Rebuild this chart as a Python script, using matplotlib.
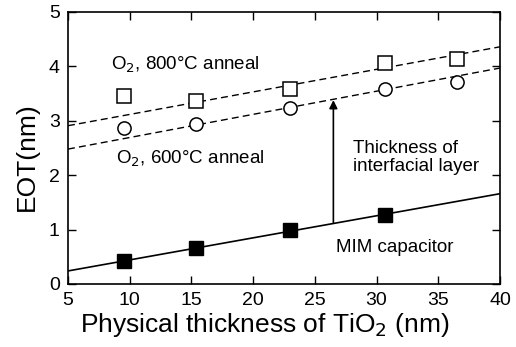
import numpy as np
import matplotlib
matplotlib.use("Agg")
import matplotlib.pyplot as plt

plt.rcParams['font.family'] = ['Liberation Sans', 'DejaVu Sans']

# TiO2 physical thickness (nm)
thick = [9.5, 15.4, 23.0, 30.7, 36.5]
thick_mim = [9.5, 15.4, 23.0, 30.7]

# EOT (nm)
eot_800 = [3.46, 3.37, 3.59, 4.07, 4.14]
eot_600 = [2.87, 2.94, 3.24, 3.59, 3.72]
eot_mim = [0.42, 0.66, 0.99, 1.27]

# fit lines, read at x = 5 and x = 40
line_x = [5, 40]
line_800 = [2.91, 4.36]
line_600 = [2.48, 3.97]
line_mim = [0.24, 1.66]

fig = plt.figure(figsize=(5.16, 3.47), dpi=100)
ax = fig.add_axes([68/516, 1 - 284/347, 432/516, 272/347])

ax.plot(line_x, line_800, 'k--', lw=1, dashes=(5, 3))
ax.plot(line_x, line_600, 'k--', lw=1, dashes=(5, 3))
ax.plot(line_x, line_mim, 'k-', lw=1.2)

ax.plot(thick, eot_800, 's', ms=9.5, mfc='white', mec='black', mew=1.1)
ax.plot(thick, eot_600, 'o', ms=9.5, mfc='white', mec='black', mew=1.1)
ax.plot(thick_mim, eot_mim, 's', ms=9.5, mfc='black', mec='black')

ax.annotate('', xy=(26.5, 3.38), xytext=(26.5, 1.13),
            arrowprops=dict(arrowstyle='-|>', color='black', lw=1.2, mutation_scale=12,
                            shrinkA=0, shrinkB=0))

ax.text(8.5, 4.03, 'O$_2$, 800°C anneal', fontsize=13.5, va='center')
ax.text(8.9, 2.3, 'O$_2$, 600°C anneal', fontsize=13.5, va='center')
ax.text(28.1, 2.32, 'Thickness of\ninterfacial layer', fontsize=13.5, va='center',
        linespacing=1.05)
ax.text(26.7, 0.68, 'MIM capacitor', fontsize=13.5, va='center')

ax.set_xlim(5, 40)
ax.set_ylim(0, 5)
ax.set_xticks(np.arange(5, 41, 5))
ax.set_yticks(np.arange(0, 6, 1))
ax.tick_params(direction='in', top=True, right=True, length=6, width=1, labelsize=14, pad=6)
for s in ax.spines.values():
    s.set_linewidth(1.2)

ax.set_xlabel('Physical thickness of TiO$_2$ (nm)', fontsize=19)
ax.set_ylabel('EOT(nm)', fontsize=19)
ax.xaxis.set_label_coords(0.456, -0.1)
ax.yaxis.set_label_coords(-0.067, 0.467)

fig.savefig('out.png', dpi=100)
